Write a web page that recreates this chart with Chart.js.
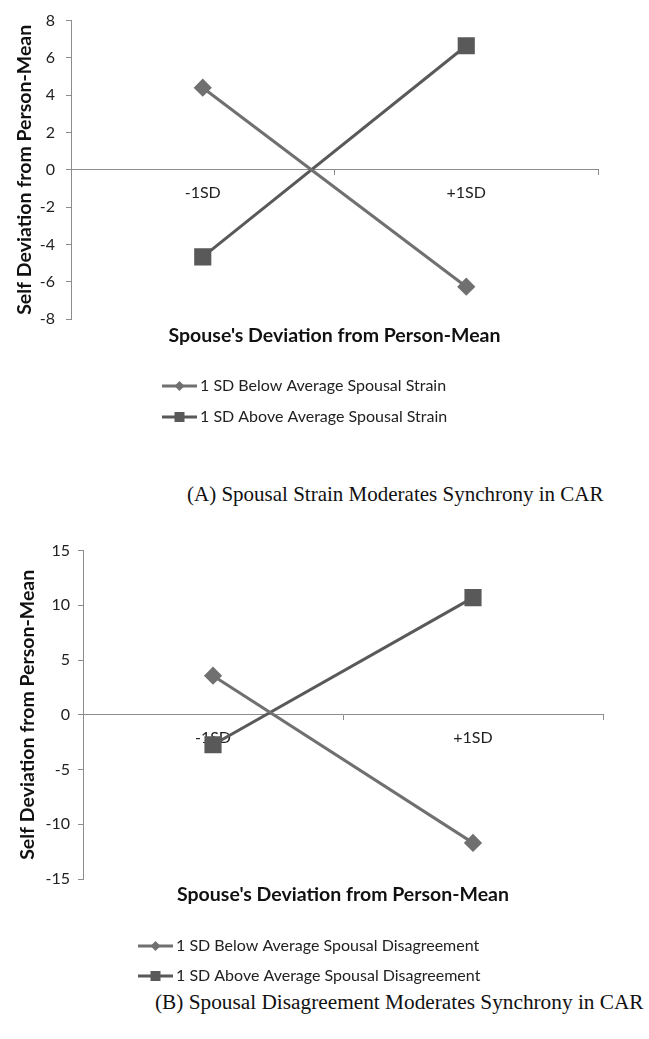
<!DOCTYPE html>
<html lang="en">
  <head>
    <meta charset="UTF-8" />
    <title>Spousal synchrony in CAR</title>
    <script src="https://cdn.jsdelivr.net/npm/chart.js"></script>
    <style>
      body {
        margin: 0;
        background: #fff;
      }
      .page {
        position: relative;
        width: 649px;
        height: 1039px;
      }
      canvas {
        position: absolute;
        left: 0;
      }
      #chartA {
        top: 0;
      }
      #chartB {
        top: 533px;
      }
      .caption {
        position: absolute;
        font-family: "Liberation Serif", "Times New Roman", serif;
        font-size: 21px;
        color: #111;
        white-space: nowrap;
      }
      #capA {
        left: 187px;
        top: 482px;
      }
      #capB {
        left: 155px;
        top: 990px;
        font-size: 21.3px;
      }
    </style>
  </head>
  <body>
    <div class="page">
      <canvas id="chartA" width="649" height="440"></canvas>
      <div class="caption" id="capA">(A) Spousal Strain Moderates Synchrony in CAR</div>
      <canvas id="chartB" width="649" height="456"></canvas>
      <div class="caption" id="capB">(B) Spousal Disagreement Moderates Synchrony in CAR</div>
    </div>

    <script>
      // data
      const categories = ["-1SD", "+1SD"];

      const strainNames = [
        "1 SD Below Average Spousal Strain",
        "1 SD Above Average Spousal Strain",
      ];
      const strainBelow = [4.4, -6.27];
      const strainAbove = [-4.67, 6.65];

      const disagreeNames = [
        "1 SD Below Average Spousal Disagreement",
        "1 SD Above Average Spousal Disagreement",
      ];
      const disagreeBelow = [3.57, -11.7];
      const disagreeAbove = [-2.74, 10.7];

      const xTitle = "Spouse's Deviation from Person-Mean";
      const yTitle = "Self Deviation from Person-Mean";

      const FONT = "Lato";
      const LIGHT = "#707070";
      const DARK = "#595959";
      const AXIS = "#8c8c8c";

      // legend drawn stacked, line + marker like the original
      const stackedLegend = {
        id: "stackedLegend",
        afterDraw(chart, args, opts) {
          const ctx = chart.ctx;
          ctx.save();
          chart.data.datasets.forEach((ds, i) => {
            const y = opts.y[i];
            const x = opts.x;
            ctx.strokeStyle = ds.borderColor;
            ctx.lineWidth = 3;
            ctx.beginPath();
            ctx.moveTo(x, y);
            ctx.lineTo(x + 35, y);
            ctx.stroke();
            ctx.fillStyle = ds.pointBackgroundColor;
            const cx = x + 17.5;
            ctx.beginPath();
            if (ds.pointStyle === "rectRot") {
              ctx.moveTo(cx, y - 5);
              ctx.lineTo(cx + 5, y);
              ctx.lineTo(cx, y + 5);
              ctx.lineTo(cx - 5, y);
              ctx.closePath();
            } else {
              ctx.rect(cx - 5, y - 5, 10, 10);
            }
            ctx.fill();
            ctx.fillStyle = "#222";
            ctx.font = "16px " + FONT;
            ctx.textBaseline = "middle";
            ctx.fillText(ds.label, x + 38, y);
          });
          ctx.restore();
        },
      };

      function makeChart(id, names, below, above, yMin, yMax, step, o) {
        return new Chart(document.getElementById(id), {
          type: "line",
          data: {
            labels: categories,
            datasets: [
              {
                label: names[0],
                data: below,
                borderColor: LIGHT,
                backgroundColor: LIGHT,
                pointBackgroundColor: LIGHT,
                pointBorderColor: LIGHT,
                pointStyle: "rectRot",
                pointRadius: 7,
                borderWidth: 3,
                tension: 0,
              },
              {
                label: names[1],
                data: above,
                borderColor: DARK,
                backgroundColor: DARK,
                pointBackgroundColor: DARK,
                pointBorderColor: DARK,
                pointStyle: "rect",
                pointRadius: 10,
                borderWidth: 3,
                tension: 0,
              },
            ],
          },
          options: {
            responsive: false,
            animation: false,
            layout: {
              padding: { top: 0, right: o.padRight, bottom: o.padBottom, left: 0 },
            },
            plugins: {
              legend: { display: false },
              tooltip: { enabled: false },
              title: {
                display: true,
                position: "bottom",
                fullSize: false,
                text: xTitle,
                color: "#111",
                font: { family: FONT, size: 19.5, weight: "bold" },
                padding: { top: o.titleTop, bottom: 6 },
                align: "center",
              },
              stackedLegend: { x: o.legendX, y: o.legendY },
            },
            scales: {
              x: {
                position: { y: 0 },
                offset: true,
                z: o.xz,
                grid: {
                  offset: true,
                  drawOnChartArea: false,
                  tickLength: 5,
                  color: AXIS,
                },
                border: { color: AXIS, width: 1 },
                ticks: {
                  color: "#222",
                  padding: 8,
                  font: { family: FONT, size: 16 },
                },
              },
              y: {
                min: yMin,
                max: yMax,
                afterFit: (s) => {
                  s.width = o.yWidth;
                },
                grid: {
                  drawOnChartArea: false,
                  tickLength: 5,
                  color: AXIS,
                },
                border: { color: AXIS, width: 1 },
                ticks: {
                  stepSize: step,
                  color: "#222",
                  padding: o.yPad,
                  font: { family: FONT, size: 16 },
                },
                title: {
                  display: true,
                  text: yTitle,
                  color: "#111",
                  font: { family: FONT, size: 19.5, weight: "bold" },
                  padding: { top: o.yTitleTop, bottom: 0 },
                },
              },
            },
          },
          plugins: [stackedLegend],
        });
      }

      makeChart("chartA", strainNames, strainBelow, strainAbove, -8, 8, 2, {
        padRight: 51,
        padBottom: 86.6,
        titleTop: 5,
        legendX: 162,
        legendY: [386, 417],
        yWidth: 71,
        yPad: 11,
        yTitleTop: 13,
        xz: 0,
      });

      makeChart("chartB", disagreeNames, disagreeBelow, disagreeAbove, -15, 15, 5, {
        padRight: 46,
        padBottom: 76.6,
        titleTop: 4,
        legendX: 138,
        legendY: [413, 443],
        yWidth: 83,
        yPad: 8,
        yTitleTop: 16,
        xz: 1,
      });
    </script>
  </body>
</html>
